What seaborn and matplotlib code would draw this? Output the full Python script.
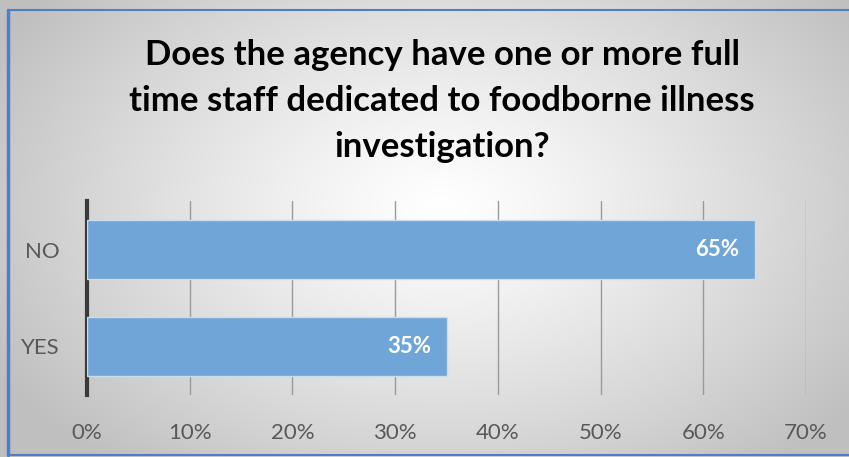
import numpy as np
import pandas as pd
import matplotlib
matplotlib.use("Agg")
import matplotlib.pyplot as plt
import seaborn as sns

categories = ["NO", "YES"]
values = [65, 35]
value_labels = ["65%", "35%"]
tick_values = [0, 10, 20, 30, 40, 50, 60, 70]
tick_labels = ["0%", "10%", "20%", "30%", "40%", "50%", "60%", "70%"]
title = "Does the agency have one or more full\ntime staff dedicated to foodborne illness\ninvestigation?"

sns.set_theme(style="white")
plt.rcParams['font.family'] = ['Lato', 'DejaVu Sans']

W, H = 849, 457
fig = plt.figure(figsize=(W / 100, H / 100), dpi=100)

# background radial gradient
bg = fig.add_axes([0, 0, 1, 1], zorder=0)
yy, xx = np.mgrid[0:H, 0:W]
cx, cy = W * 0.52, H * 0.45
r = np.sqrt(((xx - cx) / (W * 0.60)) ** 2 + ((yy - cy) / (H * 0.75)) ** 2)
r = np.clip(r, 0, 1)
val = 1.0 - 0.25 * r ** 1.2
img = np.dstack([val, val, val])
bg.imshow(img, aspect="auto", extent=[0, W, H, 0])
bg.set_xlim(0, W)
bg.set_ylim(H, 0)
bg.axis("off")
# border
bg.plot([8, 8], [10, 455], color="#4a7fd0", lw=2.5)
bg.plot([8, W], [10, 10], color="#4a7fd0", lw=1.5)
bg.plot([8, W], [455, 455], color="#4a7fd0", lw=1.5)

ax = fig.add_axes([87 / W, 1 - 395 / H, (806 - 87) / W, (395 - 201) / H], zorder=1)
ax.patch.set_alpha(0)
df = pd.DataFrame({"cat": categories, "val": values})
sns.barplot(data=df, y="cat", x="val", orient="h", color="#6fa5d7",
            saturation=1, width=0.6, ax=ax, edgecolor="#c9ddf0", linewidth=1, zorder=3)
ax.set_xlim(0, 70)
ax.set_ylim(1.5, -0.5)
ax.set_xticks(tick_values)
ax.set_xticklabels(tick_labels)
ax.set_xlabel("")
ax.set_ylabel("")
ax.grid(axis="x", color="#9a9a9a", lw=1, zorder=0)
ax.set_axisbelow(True)
for s in ["top", "right", "bottom"]:
    ax.spines[s].set_visible(False)
ax.spines["left"].set_color("#3a3a3a")
ax.spines["left"].set_linewidth(3)
ax.tick_params(axis="both", length=0, labelsize=16, colors="#595959")
ax.tick_params(axis="x", pad=20)
ax.tick_params(axis="y", pad=20)

for i, (v, lab) in enumerate(zip(values, value_labels)):
    ax.text(v - 1.5, i, lab, ha="right", va="center", color="white",
            fontsize=16, fontweight="bold", zorder=5)

fig.text(442 / W, 1 - 101 / H, title, ha="center", va="center", fontsize=25,
         fontweight="bold", color="black", linespacing=1.55)

fig.savefig("out.png", dpi=100)
